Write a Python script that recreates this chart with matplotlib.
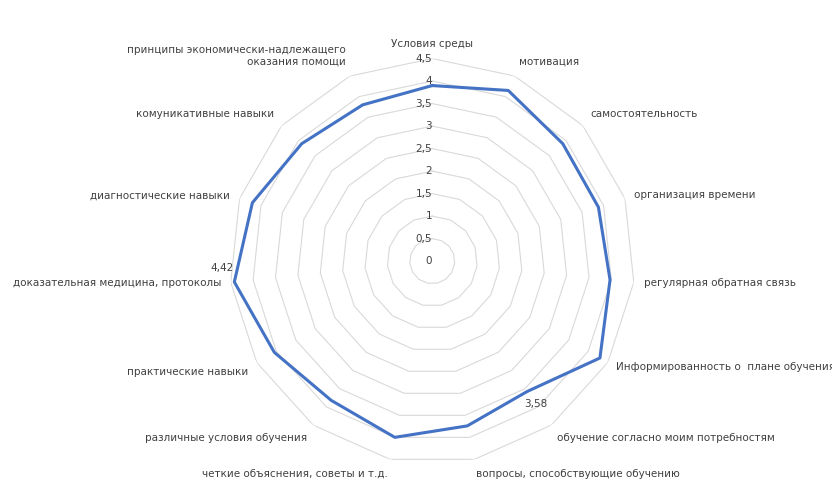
import numpy as np
import matplotlib
matplotlib.use("Agg")
import matplotlib.pyplot as plt

categories = ["Условия среды", "мотивация", "самостоятельность", "организация времени",
              "регулярная обратная связь", "Информированность о  плане обучения",
              "обучение согласно моим потребностям", "вопросы, способствующие обучению",
              "четкие объяснения, советы и т.д.", "различные условия обучения",
              "практические навыки", "доказательная медицина, протоколы",
              "диагностические навыки", "комуникативные навыки",
              "принципы экономически-надлежащего\nоказания помощи"]
values = [3.9, 4.15, 3.9, 3.88, 3.97, 4.3, 3.58, 3.74, 4.0, 3.82, 4.05, 4.42, 4.2, 3.9, 3.8]
rticks = [0, 0.5, 1, 1.5, 2, 2.5, 3, 3.5, 4, 4.5]
rlabels = ["0", "0,5", "1", "1,5", "2", "2,5", "3", "3,5", "4", "4,5"]

fig = plt.figure(figsize=(8.32, 4.9), dpi=100)
ax = fig.add_axes([0.5 - 0.246 + 0.022, 0.047, 0.492 * 0.99, 0.84], polar=True)
ax.set_theta_zero_location("N")
ax.set_theta_direction(-1)
n = len(categories)
ang = np.arange(n) * 2 * np.pi / n
ax.set_ylim(0, 4.5)
ax.axis("off")
for r in rticks[1:]:
    a = np.append(ang, ang[0])
    ax.plot(a, [r] * (n + 1), color="#d9d9d9", lw=0.8, zorder=1)
for r, l in zip(rticks, rlabels):
    ax.text(0, r, l, ha="right", va="center", fontsize=7.5, color="#404040")
v = values + values[:1]
a = np.append(ang, ang[0])
ax.plot(a, v, color="#4472c4", lw=2.2, zorder=3)
for t, c in zip(ang, categories):
    deg = np.degrees(t)
    if deg < 1:
        ha = "center"
    elif deg < 180:
        ha = "left"
    else:
        ha = "right"
    if deg < 1 or deg < 60 or deg > 300:
        va = "bottom"
    elif 120 < deg < 240:
        va = "top"
    else:
        va = "center"
    ax.text(t, 4.72, c, ha=ha, va=va, fontsize=7.5, color="#404040")
ax.text(ang[6], 3.58 + 0.35, "3,58", ha="center", va="center", fontsize=7.5, color="#404040")
ax.text(ang[11] + 0.07, 4.42 + 0.25, "4,42", ha="center", va="center", fontsize=7.5, color="#404040")
fig.savefig("out.png", dpi=100)
